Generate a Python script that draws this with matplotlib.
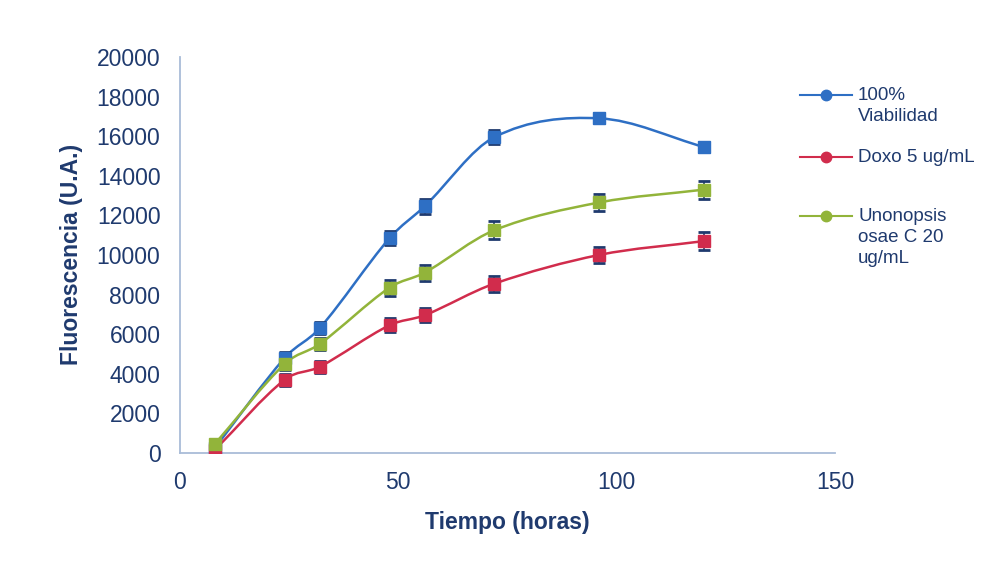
import numpy as np
import matplotlib
matplotlib.use("Agg")
import matplotlib.pyplot as plt
from matplotlib.path import Path
from matplotlib.patches import PathPatch
from matplotlib.lines import Line2D

plt.rcParams['font.family'] = ['Liberation Sans', 'DejaVu Sans']

hours = [8, 24, 32, 48, 56, 72, 96, 120]
viab = [250, 4800, 6300, 10850, 12450, 15950, 16900, 15450]
doxo = [150, 3700, 4350, 6450, 6950, 8550, 10000, 10700]
unon = [450, 4500, 5500, 8350, 9100, 11250, 12650, 13300]
err_viab = [200, 300, 300, 350, 400, 350, 250, 250]
err_doxo = [150, 300, 300, 350, 350, 400, 400, 450]
err_unon = [200, 300, 300, 400, 400, 450, 450, 450]

labels = ["100%\nViabilidad", "Doxo 5 ug/mL", "Unonopsis\nosae C 20\nug/mL"]
colors = ["#2E6FC4", "#D12C4C", "#92B43A"]
navy = "#1F3A6E"

fig = plt.figure(figsize=(10.05, 5.64), dpi=100)
fig.patch.set_facecolor("white")
ax = fig.add_axes([0.179, 0.197, 0.652, 0.702])


def smooth_path(xs, ys, tension=1.0):
    xs = np.asarray(xs, float)
    ys = np.asarray(ys, float)
    n = len(xs)
    m = np.zeros(n)
    for i in range(n):
        a = max(i - 1, 0)
        b = min(i + 1, n - 1)
        m[i] = (ys[b] - ys[a]) / (xs[b] - xs[a]) * tension
    verts = [(xs[0], ys[0])]
    codes = [Path.MOVETO]
    for i in range(n - 1):
        dx = xs[i + 1] - xs[i]
        c1 = (xs[i] + dx / 3, ys[i] + m[i] * dx / 3)
        c2 = (xs[i + 1] - dx / 3, ys[i + 1] - m[i + 1] * dx / 3)
        verts += [c1, c2, (xs[i + 1], ys[i + 1])]
        codes += [Path.CURVE4] * 3
    return Path(verts, codes)


series = [(viab, err_viab), (doxo, err_doxo), (unon, err_unon)]
for (vals, errs), col in zip(series, colors):
    ax.add_patch(PathPatch(smooth_path(hours, vals), facecolor="none",
                           edgecolor=col, lw=1.8, zorder=2))
    ax.errorbar(hours, vals, yerr=errs, fmt="none", ecolor=navy,
                elinewidth=1.2, capsize=4, capthick=2, zorder=3)
    ax.plot(hours, vals, linestyle="none", marker="s", markersize=9,
            color=col, markeredgecolor=col, zorder=4)

ax.set_xlim(0, 150)
ax.set_ylim(0, 20000)
ax.set_xticks([0, 50, 100, 150])
ax.set_yticks(range(0, 20001, 2000))
for s in ["top", "right"]:
    ax.spines[s].set_visible(False)
for s in ["left", "bottom"]:
    ax.spines[s].set_color("#A9BCD8")
    ax.spines[s].set_linewidth(1.3)
ax.tick_params(axis="both", length=0, colors=navy, labelsize=16.5)
ax.tick_params(axis="x", pad=13)
ax.tick_params(axis="y", pad=14)
ax.set_xlabel("Tiempo (horas)", fontsize=16.5, fontweight="bold", color=navy, labelpad=12)
ax.set_ylabel("Fluorescencia (U.A.)", fontsize=16.5, fontweight="bold", color=navy, labelpad=10)

# legend drawn manually (handle aligned with first text line)
W, H = 1005, 564
leg_y = [95, 157, 216]
for lab, col, yy in zip(labels, colors, leg_y):
    fy = 1 - yy / H
    fig.add_artist(Line2D([800 / W, 852 / W], [fy, fy], color=col, lw=1.5,
                          transform=fig.transFigure))
    fig.add_artist(Line2D([826 / W], [fy], color=col, marker="o", markersize=7.5,
                          linestyle="none", transform=fig.transFigure))
    fig.text(858 / W, 1 - (yy - 8) / H, lab, ha="left", va="top", fontsize=13.5,
             color=navy, linespacing=1.3)

fig.savefig("out.png", dpi=100)
